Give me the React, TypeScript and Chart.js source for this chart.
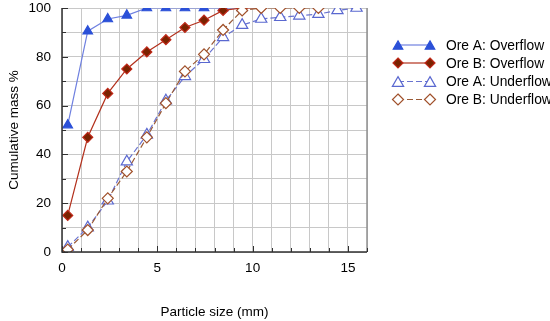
import React, { useEffect, useRef } from "react";
import { Chart, registerables } from "chart.js";

Chart.register(...registerables);

const oreAOverX = [0.3, 1.35, 2.4, 3.4, 4.45, 5.45, 6.45, 7.45, 8.45, 9.45];
const oreAOverY = [52, 90.5, 95.5, 97, 100, 100, 100, 100, 100, 100];

const oreBOverX = [0.3, 1.35, 2.4, 3.4, 4.45, 5.45, 6.45, 7.45, 8.45, 9.45, 10.45];
const oreBOverY = [15, 47, 65, 75, 82, 87, 92, 95, 99, 100, 100];

const oreAUnderX = [0.3, 1.35, 2.4, 3.4, 4.45, 5.45, 6.45, 7.45, 8.45, 9.45, 10.45, 11.45, 12.45, 13.45, 14.45, 15.45];
const oreAUnderY = [2, 10, 21, 37, 48, 62, 72, 79, 88, 93, 95.5, 96.2, 96.8, 97.5, 99, 100];

const oreBUnderX = [0.3, 1.35, 2.4, 3.4, 4.45, 5.45, 6.45, 7.45, 8.45, 9.45, 10.45, 11.45, 12.45, 13.45];
const oreBUnderY = [1, 9, 22, 33, 47, 61, 74, 81, 91, 99, 100, 100, 100, 100];

const seriesLabels = ["Ore A: Overflow", "Ore B: Overflow", "Ore A: Underflow", "Ore B: Underflow"];

const xTitle = "Particle size (mm)";
const yTitle = "Cumulative mass %";

const FONT = "Arial, 'Liberation Sans', sans-serif";

const styles = [
  { line: "#6f80e0", fill: "#2b50d8", border: "#2b50d8", shape: "triangle", r: 5.5, dash: [] as number[] },
  { line: "#b3301c", fill: "#7a2200", border: "#c02818", shape: "rectRot", r: 5, dash: [] as number[] },
  { line: "#6a74d0", fill: "#ffffff", border: "#5a68d0", shape: "triangle", r: 6.5, dash: [6, 3] },
  { line: "#9a5a36", fill: "#ffffff", border: "#a0502a", shape: "rectRot", r: 5.5, dash: [6, 3] },
];

function toPts(xs: number[], ys: number[]) {
  return xs.map((x, i) => ({ x, y: ys[i] }));
}

const extrasPlugin = {
  id: "extras",
  afterDatasetsDraw(chart: any) {
    const { ctx, chartArea } = chart;
    const xs = chart.scales.x;
    const ys = chart.scales.y;
    ctx.save();
    ctx.strokeStyle = "#909090";
    ctx.lineWidth = 1.5;
    ctx.beginPath();
    ctx.moveTo(chartArea.right, chartArea.top);
    ctx.lineTo(chartArea.right, chartArea.bottom);
    ctx.stroke();
    ctx.strokeStyle = "#303030";
    ctx.lineWidth = 1.5;
    ctx.beginPath();
    ctx.moveTo(chartArea.left, chartArea.top);
    ctx.lineTo(chartArea.left, chartArea.bottom);
    ctx.lineTo(chartArea.right, chartArea.bottom);
    ctx.stroke();
    ctx.lineWidth = 1;
    ctx.strokeStyle = "#303030";
    for (let v = 0; v <= 16; v++) {
      const px = Math.round(xs.getPixelForValue(v)) + 0.5;
      const len = v % 5 === 0 ? 6 : 4;
      ctx.beginPath();
      ctx.moveTo(px, chartArea.bottom);
      ctx.lineTo(px, chartArea.bottom - len);
      ctx.stroke();
    }
    for (let v = 0; v <= 100; v += 10) {
      const py = Math.round(ys.getPixelForValue(v)) + 0.5;
      const len = v % 20 === 0 ? 6 : 4;
      ctx.beginPath();
      ctx.moveTo(chartArea.left, py);
      ctx.lineTo(chartArea.left + len, py);
      ctx.stroke();
    }
    const rowsY = [45, 63, 81.5, 99.5];
    const x1 = 398;
    const x2 = 430;
    styles.forEach((s, i) => {
      const y = rowsY[i];
      ctx.strokeStyle = s.line;
      ctx.lineWidth = 1.2;
      ctx.setLineDash(s.dash);
      ctx.beginPath();
      ctx.moveTo(x1, y);
      ctx.lineTo(x2, y);
      ctx.stroke();
      ctx.setLineDash([]);
      [x1, x2].forEach((mx) => {
        ctx.fillStyle = s.fill;
        ctx.strokeStyle = s.border;
        ctx.lineWidth = 1.2;
        ctx.beginPath();
        if (s.shape === "triangle") {
          const r = s.r;
          for (let k = 0; k < 3; k++) {
            const a = (k * 2 * Math.PI) / 3;
            const px = mx + Math.sin(a) * r;
            const py = y - Math.cos(a) * r + r * 0.25;
            if (k === 0) ctx.moveTo(px, py);
            else ctx.lineTo(px, py);
          }
        } else {
          const r = s.r;
          ctx.moveTo(mx, y - r);
          ctx.lineTo(mx + r, y);
          ctx.lineTo(mx, y + r);
          ctx.lineTo(mx - r, y);
        }
        ctx.closePath();
        ctx.fill();
        ctx.stroke();
      });
      ctx.fillStyle = "#000000";
      ctx.font = `13.8px ${FONT}`;
      ctx.textAlign = "left";
      ctx.textBaseline = "middle";
      ctx.fillText(seriesLabels[i], 446, y + 1);
    });
    ctx.restore();
  },
};

export default function App() {
  const ref = useRef<HTMLCanvasElement | null>(null);
  useEffect(() => {
    if (!ref.current) return;
    const xsArr = [oreAOverX, oreBOverX, oreAUnderX, oreBUnderX];
    const ysArr = [oreAOverY, oreBOverY, oreAUnderY, oreBUnderY];
    const orders = [4, 3, 2, 1];
    const chart = new Chart(ref.current, {
      type: "scatter",
      data: {
        datasets: styles.map((s, i) => ({
          label: seriesLabels[i],
          data: toPts(xsArr[i], ysArr[i]),
          showLine: true,
          borderColor: s.line,
          borderWidth: 1.2,
          borderDash: s.dash,
          pointStyle: s.shape as any,
          pointRadius: s.r,
          pointBackgroundColor: s.fill,
          pointBorderColor: s.border,
          pointBorderWidth: 1.2,
          order: orders[i],
        })),
      },
      options: {
        responsive: false,
        animation: false,
        layout: { padding: { left: 0, top: 8, right: 183, bottom: 0 } },
        plugins: { legend: { display: false }, tooltip: { enabled: false } },
        scales: {
          x: {
            type: "linear",
            min: 0,
            max: 16,
            afterFit: (scale: any) => {
              scale.height = 69;
              scale.paddingLeft = 0;
              scale.paddingRight = 0;
            },
            border: { display: false },
            grid: { color: "#c8c8c8", lineWidth: 1, drawTicks: false },
            ticks: {
              stepSize: 1,
              autoSkip: false,
              maxRotation: 0,
              padding: 8,
              color: "#000",
              font: { family: FONT, size: 13.5 },
              callback: (v: any) => (Number(v) % 5 === 0 ? String(v) : ""),
            },
            title: {
              display: true,
              text: xTitle,
              color: "#000",
              font: { family: FONT, size: 13.5 },
              padding: { top: 0, bottom: 1 },
            },
          },
          y: {
            type: "linear",
            min: 0,
            max: 100,
            afterFit: (scale: any) => {
              scale.width = 62;
              scale.paddingTop = 0;
              scale.paddingBottom = 0;
            },
            border: { display: false },
            grid: { color: "#c8c8c8", lineWidth: 1, drawTicks: false },
            ticks: {
              stepSize: 10,
              autoSkip: false,
              padding: 11,
              color: "#000",
              font: { family: FONT, size: 13.5 },
              callback: (v: any) => (Number(v) % 20 === 0 ? String(v) : ""),
            },
            title: {
              display: true,
              text: yTitle,
              color: "#000",
              font: { family: FONT, size: 13.5 },
              padding: { top: 6, bottom: 0 },
            },
          },
        },
      },
      plugins: [extrasPlugin],
    });
    return () => chart.destroy();
  }, []);
  return (
    <div style={{ position: "fixed", left: 0, top: 0, width: 550, height: 321, background: "#fff" }}>
      <canvas ref={ref} width={550} height={321} style={{ display: "block" }} />
    </div>
  );
}
